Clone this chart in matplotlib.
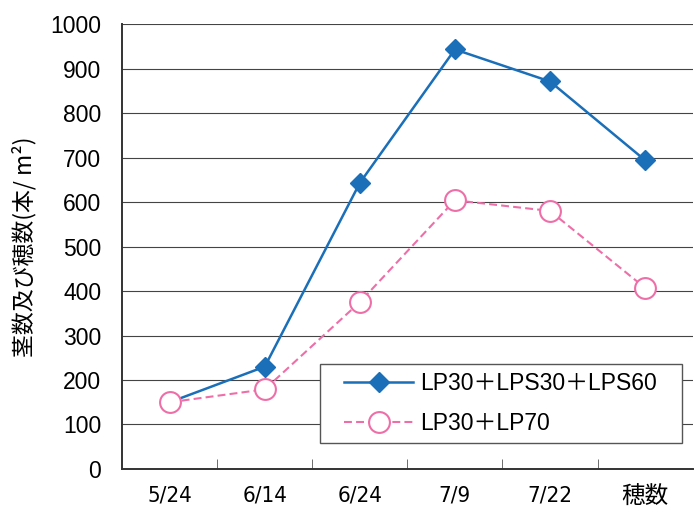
import matplotlib
matplotlib.use("Agg")
import matplotlib.pyplot as plt
from matplotlib.patches import Rectangle
import numpy as np

plt.rcParams['font.family'] = ['Liberation Sans', 'Noto Sans CJK JP']

categories = ["5/24", "6/14", "6/24", "7/9", "7/22", "穂数"]
series_a = [150, 230, 643, 943, 871, 694]
series_b = [150, 179, 375, 604, 580, 407]
label_a = "LP30＋LPS30＋LPS60"
label_b = "LP30＋LP70"
yticks = [0, 100, 200, 300, 400, 500, 600, 700, 800, 900, 1000]

blue = "#1a6fb8"
pink = "#ee6fa8"

fig = plt.figure(figsize=(6.94, 5.12), dpi=100)
ax = fig.add_axes([0.176, 0.084, 0.822, 0.869])

x = np.arange(len(categories))
ax.plot(x, series_a, color=blue, lw=1.8, marker='D', ms=10.5, mfc=blue, mec=blue,
        label=label_a, zorder=3)
ax.plot(x, series_b, color=pink, lw=1.5, ls=(0, (3.8, 2)), marker='o', ms=15,
        mfc='white', mec=pink, mew=1.5, label=label_b, zorder=3)

ax.set_xlim(-0.5, len(categories) - 0.5)
ax.set_ylim(0, 1000)
ax.set_yticks(yticks)
ax.set_yticklabels([str(v) for v in yticks], fontsize=16.5)
ax.yaxis.grid(True, color='#444444', lw=0.8)
ax.set_axisbelow(True)
ax.tick_params(axis='y', length=0, pad=15)

ax.set_xticks(x)
ax.set_xticklabels(categories, fontsize=16.5)
xl = ax.get_xticklabels()
for lbl in xl[:-1]:
    lbl.set_family(['DejaVu Sans'])
    lbl.set_fontstretch('condensed')
    lbl.set_fontsize(16)
xl[-1].set_family(['Noto Sans CJK JP'])
xl[-1].set_fontsize(17)
xl[-1].set_fontweight('normal')
ax.set_xticks(np.arange(0.5, len(categories) - 0.5, 1), minor=True)
ax.tick_params(axis='x', which='major', length=0, pad=12)
ax.tick_params(axis='x', which='minor', direction='in', length=7, color='#555555')

for s in ['top', 'right']:
    ax.spines[s].set_visible(False)
ax.spines['left'].set_color('#333333')
ax.spines['bottom'].set_color('#333333')
ax.spines['left'].set_linewidth(1.4)
ax.spines['bottom'].set_linewidth(1.4)

ax.set_ylabel("茎数及び穂数(本/ m²)", fontsize=16.5, labelpad=10,
              family=['Noto Sans CJK JP', 'DejaVu Sans'])

# legend frame
frame = Rectangle((0.346, 0.058), 0.635, 0.178, transform=ax.transAxes,
                  facecolor='white', edgecolor='#555555', lw=1.0, zorder=4)
ax.add_patch(frame)
leg = ax.legend(loc='center', bbox_to_anchor=(0.6635, 0.147),
                frameon=False, borderaxespad=0, borderpad=0,
                handlelength=3.0, handletextpad=0.3, labelspacing=0.75,
                prop={'family': ['Liberation Sans', 'Noto Sans CJK JP'], 'size': 16.5})
leg.set_zorder(5)

fig.savefig("out.png", dpi=100)
